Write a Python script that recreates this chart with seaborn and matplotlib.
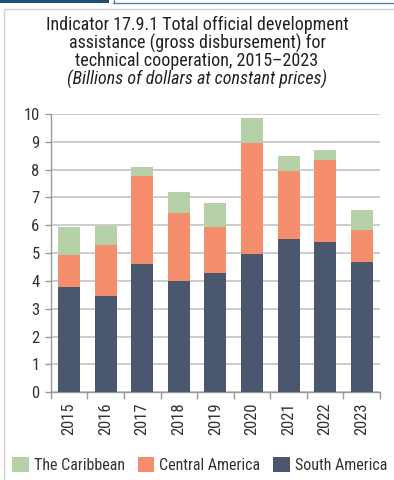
import matplotlib
matplotlib.use("Agg")
import matplotlib.pyplot as plt
import seaborn as sns
import pandas as pd
import numpy as np
from matplotlib.patches import Rectangle, Patch
from matplotlib.lines import Line2D

years = ["2015", "2016", "2017", "2018", "2019", "2020", "2021", "2022", "2023"]
south_america = [3.78, 3.46, 4.61, 4.00, 4.28, 4.97, 5.51, 5.40, 4.68]
central_america = [1.15, 1.83, 3.16, 2.44, 1.66, 3.99, 2.44, 2.95, 1.15]
caribbean = [1.01, 0.69, 0.33, 0.76, 0.86, 0.90, 0.54, 0.36, 0.72]
y_ticks = [0, 1, 2, 3, 4, 5, 6, 7, 8, 9, 10]

c_south = "#4b566f"
c_central = "#f58e6d"
c_carib = "#b6d1a8"

sns.set_style("white")
plt.rcParams["font.family"] = ["Roboto Condensed", "DejaVu Sans"]
plt.rcParams["font.weight"] = "normal"

df = pd.DataFrame({"year": years, "south": south_america,
                   "central": central_america, "carib": caribbean})
df["lvl2"] = df["south"] + df["central"]
df["lvl3"] = df["lvl2"] + df["carib"]

fig = plt.figure(figsize=(3.94, 4.8), dpi=100)
ax = fig.add_axes([0.1287, 0.1827, 0.836, 0.5798])

sns.barplot(data=df, x="year", y="lvl3", color=c_carib, width=0.6, ax=ax, saturation=1, zorder=3)
sns.barplot(data=df, x="year", y="lvl2", color=c_central, width=0.6, ax=ax, saturation=1, zorder=3)
sns.barplot(data=df, x="year", y="south", color=c_south, width=0.6, ax=ax, saturation=1, zorder=3)
for p in ax.patches:
    p.set_edgecolor("none")
    p.set_zorder(3)

ax.set_ylim(0, 10)
ax.set_xlim(-0.5, len(years) - 0.5)
ax.set_yticks(y_ticks)
ax.set_yticklabels([str(t) for t in y_ticks], fontsize=12, color="#333333")
ax.set_xticks(range(len(years)))
ax.set_xticklabels(years, rotation=90, fontsize=12, color="#333333")
ax.tick_params(axis="x", length=0, pad=7)
ax.tick_params(axis="y", length=4, width=1, color="#999999", pad=4, direction="out", left=True)
ax.set_xticks(np.arange(-0.5, len(years), 1.0), minor=True)
ax.tick_params(axis="x", which="minor", length=5, width=1, color="#999999", direction="out", bottom=True)
ax.set_xlabel("")
ax.set_ylabel("")
ax.yaxis.grid(True, color="#c4c4c4", linewidth=1.2, zorder=0)
ax.xaxis.grid(False)
for s in ["top", "right"]:
    ax.spines[s].set_visible(False)
for s in ["left", "bottom"]:
    ax.spines[s].set_color("#999999")
    ax.spines[s].set_linewidth(1)

title_kw = dict(ha="center", va="center", fontsize=13, color="#222222")
fig.text(0.5, 0.947, "Indicator 17.9.1 Total official development", **title_kw)
fig.text(0.5, 0.910, "assistance (gross disbursement) for", **title_kw)
fig.text(0.5, 0.872, "technical cooperation, 2015\u20132023", **title_kw)
fig.text(0.5, 0.834, "(Billions of dollars at constant prices)", style="italic", **title_kw)

handles = [Patch(facecolor=c_carib, edgecolor="none", label="The Caribbean"),
           Patch(facecolor=c_central, edgecolor="none", label="Central America"),
           Patch(facecolor=c_south, edgecolor="none", label="South America")]
fig.legend(handles=handles, loc="center", bbox_to_anchor=(0.507, 0.032), ncol=3, frameon=False,
           fontsize=11.5, handlelength=1.05, handleheight=1.05, handletextpad=0.3,
           columnspacing=0.8, labelcolor="#333333", borderaxespad=0, borderpad=0)

# decorative frame
W, H = 394, 480
fig.patches.append(Rectangle((0, 1 - 3 / H), 109 / W, 3 / H, transform=fig.transFigure,
                             facecolor="#1f4e79", edgecolor="none"))
fig.lines.append(Line2D([113 / W, 1], [1 - 2.5 / H, 1 - 2.5 / H], transform=fig.transFigure,
                        color="#5a7fa0", linewidth=1))
fig.lines.append(Line2D([114 / W, 114 / W], [1 - 3 / H, 1], transform=fig.transFigure,
                        color="#5a7fa0", linewidth=1))
fig.lines.append(Line2D([3.5 / W, 1], [1 - 9 / H, 1 - 9 / H], transform=fig.transFigure,
                        color="#d0d0d0", linewidth=1))
fig.lines.append(Line2D([3.5 / W, 3.5 / W], [0, 1 - 9 / H], transform=fig.transFigure,
                        color="#d0d0d0", linewidth=1))

fig.savefig("out.png", dpi=100)
